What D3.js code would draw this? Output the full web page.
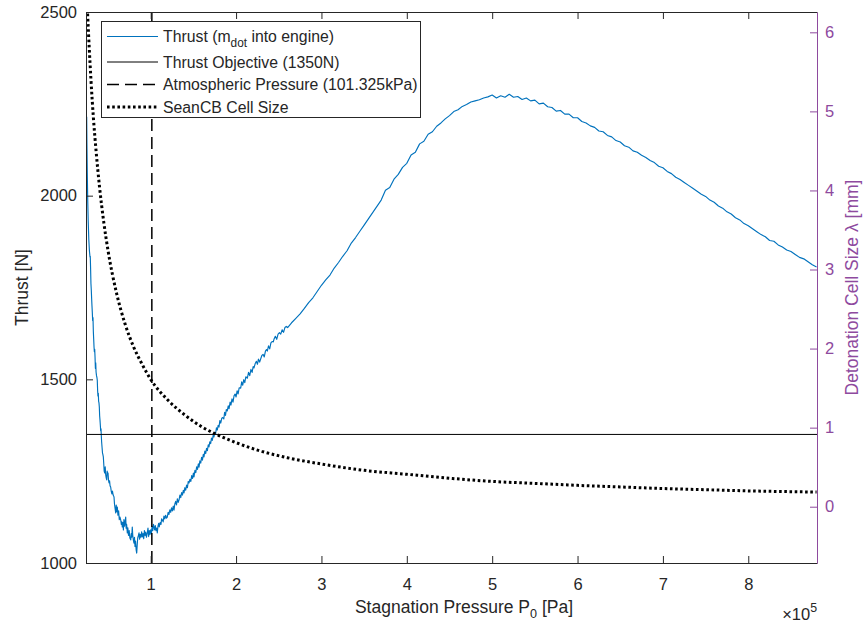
<!DOCTYPE html>
<html><head><meta charset="utf-8">
<script src="https://cdn.jsdelivr.net/npm/d3@7"></script>
<style>
html,body{margin:0;padding:0;background:#fff;}
svg{display:block;font-family:"Liberation Sans",Arial,Helvetica,sans-serif;}
</style></head><body>
<svg id="chart" width="865" height="625"></svg>
<script>
// ---------- data (pressure in units of 1e5 Pa) ----------
const pressureTicks = [1, 2, 3, 4, 5, 6, 7, 8];
const thrustTicks = [1000, 1500, 2000, 2500];
const cellTicks = [0, 1, 2, 3, 4, 5, 6];
const pressureRange = [0.242, 8.805];
const thrustRange = [1000, 2500];
const cellRange = [-0.712, 6.257];
const thrustObjective = 1350;          // N
const atmosphericPressure = 1.01325;   // x1e5 Pa
const legendLabels = ["Thrust (m|dot| into engine)", "Thrust Objective (1350N)", "Atmospheric Pressure (101.325kPa)", "SeanCB Cell Size"];

// Thrust [N] vs stagnation pressure
const thrustCurve = [
[0.250,2215],[0.253,2140],[0.257,2062],[0.262,1990],[0.268,1930],[0.275,1880],[0.282,1850],[0.289,1833],[0.292,1835],[0.296,1800],
[0.300,1760],[0.304,1743],[0.308,1720],[0.312,1700],[0.316,1681],[0.320,1660],[0.324,1668],[0.328,1630],[0.332,1610],[0.336,1588],
[0.340,1575],[0.344,1582],[0.348,1560],[0.352,1530],[0.356,1545],[0.360,1520],[0.365,1510],[0.370,1505],[0.374,1498],[0.378,1470],
[0.382,1455],[0.386,1462],[0.390,1440],[0.394,1436],[0.398,1425],[0.402,1400],[0.406,1389],[0.410,1375],[0.414,1360],[0.418,1365],
[0.421,1348],[0.425,1330],[0.430,1315],[0.435,1300],[0.440,1295],[0.445,1289],[0.450,1270],[0.455,1250],[0.461,1245],[0.467,1262],
[0.473,1240],[0.479,1232],[0.485,1226],[0.490,1250],[0.495,1242],[0.500,1245],[0.506,1225],[0.512,1218],[0.518,1224],[0.524,1210],
[0.531,1207],[0.538,1195],[0.545,1188],[0.552,1196],[0.560,1185],[0.570,1180],[0.576,1160],[0.582,1150],[0.590,1136],[0.596,1158],
[0.602,1140],[0.609,1152],[0.616,1130],[0.624,1142],[0.632,1118],[0.640,1125],[0.649,1117],[0.656,1105],[0.662,1112],[0.667,1098],
[0.674,1110],[0.680,1090],[0.686,1118],[0.694,1100],[0.700,1112],[0.707,1125],[0.712,1095],[0.718,1105],[0.726,1082],[0.732,1096],
[0.740,1075],[0.748,1088],[0.756,1068],[0.766,1063],[0.772,1080],[0.778,1070],[0.784,1098],[0.790,1075],[0.797,1062],[0.804,1054],
[0.810,1070],[0.816,1045],[0.822,1060],[0.830,1035],[0.836,1027],[0.842,1050],[0.848,1068],[0.856,1075],[0.863,1082],[0.870,1065],
[0.878,1078],[0.886,1070],[0.894,1085],[0.902,1071],[0.910,1080],[0.918,1066],[0.926,1088],[0.934,1075],[0.942,1084],[0.950,1070],
[0.960,1082],[0.968,1095],[0.976,1072],[0.984,1088],[0.992,1078],[1.000,1090],[1.008,1080],[1.016,1100],[1.024,1088],[1.032,1105],
[1.039,1098],[1.046,1090],[1.054,1102],[1.062,1088],[1.070,1095],[1.077,1082],[1.085,1100],[1.093,1108],[1.100,1098],[1.110,1110],
[1.120,1105],[1.128,1120],[1.136,1117],[1.146,1112],[1.155,1128],[1.165,1120],[1.175,1130],[1.185,1122],[1.194,1125],[1.204,1138],
[1.214,1132],[1.224,1145],[1.234,1138],[1.244,1150],[1.254,1142],[1.264,1155],[1.273,1144],[1.282,1160],[1.292,1168],[1.302,1158],
[1.312,1175],[1.322,1165],[1.332,1172],[1.342,1185],[1.352,1178],[1.362,1192],[1.372,1185],[1.382,1198],[1.390,1191],[1.400,1205],
[1.410,1198],[1.420,1212],[1.430,1205],[1.440,1222],[1.449,1218],[1.460,1228],[1.470,1222],[1.480,1238],[1.490,1230],[1.500,1245],
[1.507,1234],[1.518,1252],[1.528,1246],[1.538,1262],[1.548,1255],[1.558,1270],[1.566,1261],[1.576,1278],[1.586,1272],[1.596,1288],
[1.606,1280],[1.616,1296],[1.624,1289],[1.634,1305],[1.644,1298],[1.654,1312],[1.664,1306],[1.674,1322],[1.683,1316],[1.692,1330],
[1.702,1325],[1.712,1340],[1.722,1334],[1.732,1348],[1.741,1343],[1.750,1356],[1.760,1352],[1.770,1368],[1.780,1362],[1.790,1375],
[1.800,1370],[1.810,1388],[1.820,1381],[1.832,1394],[1.844,1396],[1.856,1392],[1.866,1410],[1.876,1402],[1.886,1418],[1.897,1414],
[1.908,1428],[1.918,1420],[1.930,1438],[1.940,1430],[1.952,1447],[1.964,1438],[1.976,1455],[1.988,1460],[2.000,1452],[2.012,1469],
[2.024,1460],[2.036,1477],[2.054,1476],[2.066,1493],[2.078,1484],[2.090,1499],[2.102,1491],[2.114,1507],[2.132,1503],[2.146,1519],
[2.160,1510],[2.174,1527],[2.188,1519],[2.200,1535],[2.210,1531],[2.224,1543],[2.238,1549],[2.250,1541],[2.262,1555],[2.276,1547],
[2.289,1556],[2.302,1565],[2.316,1568],[2.330,1561],[2.344,1577],[2.356,1581],[2.366,1577],[2.380,1591],[2.394,1583],[2.408,1599],
[2.422,1603],[2.436,1602],[2.444,1609],[2.460,1617],[2.476,1609],[2.492,1623],[2.508,1627],[2.523,1623],[2.540,1635],[2.556,1628],
[2.572,1641],[2.588,1644],[2.604,1641],[2.65,1654],[2.70,1666],[2.75,1678],[2.80,1693],[2.85,1709],[2.90,1722],[2.95,1739],
[3.00,1756],[3.05,1771],[3.10,1784],[3.15,1803],[3.20,1818],[3.25,1835],[3.30,1850],[3.35,1871],[3.40,1886],[3.45,1903],
[3.50,1920],[3.55,1937],[3.60,1954],[3.65,1971],[3.70,1988],[3.75,2015],[3.80,2022],[3.85,2045],[3.90,2058],[3.95,2077],
[4.00,2088],[4.05,2111],[4.10,2118],[4.15,2141],[4.20,2148],[4.25,2167],[4.30,2174],[4.35,2189],[4.40,2198],[4.45,2209],
[4.50,2218],[4.55,2229],[4.60,2234],[4.65,2243],[4.70,2248],[4.75,2255],[4.80,2258],[4.85,2261],[4.90,2266],[4.95,2269],
[5.00,2274],[5.05,2266],[5.10,2272],[5.15,2268],[5.20,2276],[5.25,2268],[5.30,2270],[5.35,2262],[5.40,2266],[5.45,2258],
[5.50,2260],[5.55,2250],[5.60,2252],[5.65,2242],[5.70,2240],[5.75,2230],[5.80,2232],[5.85,2222],[5.90,2222],[5.95,2212],
[6.00,2212],[6.05,2202],[6.10,2198],[6.15,2190],[6.20,2186],[6.25,2176],[6.30,2174],[6.35,2164],[6.40,2160],[6.45,2150],
[6.50,2146],[6.55,2136],[6.60,2132],[6.65,2122],[6.70,2118],[6.75,2110],[6.80,2104],[6.85,2096],[6.90,2090],[6.95,2080],
[7.00,2076],[7.05,2066],[7.10,2060],[7.15,2050],[7.20,2044],[7.25,2036],[7.30,2028],[7.35,2020],[7.40,2012],[7.45,2004],
[7.50,1998],[7.55,1988],[7.60,1982],[7.65,1972],[7.70,1966],[7.75,1956],[7.80,1950],[7.85,1940],[7.90,1934],[7.95,1924],
[8.00,1918],[8.05,1910],[8.10,1902],[8.15,1894],[8.20,1888],[8.25,1878],[8.30,1876],[8.35,1866],[8.40,1860],[8.45,1852],
[8.50,1848],[8.55,1840],[8.60,1832],[8.65,1828],[8.70,1820],[8.75,1812],[8.80,1806]
];

// Detonation cell size [mm] vs stagnation pressure
const cellPressure = [0.25, 0.26, 0.28, 0.30, 0.33, 0.36, 0.40, 0.45, 0.50, 0.60, 0.70, 0.80, 0.90, 1.0, 1.2, 1.4, 1.6, 1.8, 2.0, 2.3, 2.6, 3.0, 3.5, 4.0, 4.5, 5.0, 5.5, 6.0, 6.5, 7.0, 7.5, 8.0, 8.5, 8.8];
const cellSize = [6.50, 6.25, 5.80, 5.40, 4.90, 4.50, 4.05, 3.60, 3.24, 2.70, 2.31, 2.02, 1.80, 1.61, 1.35, 1.16, 1.01, 0.90, 0.81, 0.70, 0.62, 0.54, 0.46, 0.41, 0.36, 0.32, 0.295, 0.27, 0.25, 0.23, 0.215, 0.20, 0.19, 0.185];

// ---------- layout ----------
const L = 86, R = 817, T = 12, B = 563;
const axisColor = "#262626";
const purple = "#8e4a9e";
const blue = "#0072BD";
const tickFont = 16.5, labelFont = 17.5, legendFont = 15.8;

const svg = d3.select("#chart");
const x = d3.scaleLinear().domain(pressureRange).range([L, R]);
const yL = d3.scaleLinear().domain(thrustRange).range([B, T]);
const yR = d3.scaleLinear().domain(cellRange).range([B, T]);

svg.append("defs").append("clipPath").attr("id", "plotclip")
  .append("rect").attr("x", L).attr("y", T).attr("width", R - L).attr("height", B - T);

const plot = svg.append("g").attr("clip-path", "url(#plotclip)");

// thrust line
plot.append("path").datum(thrustCurve)
  .attr("fill", "none").attr("stroke", blue).attr("stroke-width", 1.15)
  .attr("stroke-linejoin", "round")
  .attr("d", d3.line().x(d => x(d[0])).y(d => yL(d[1])));

// objective
plot.append("line")
  .attr("x1", x(pressureRange[0])).attr("x2", x(pressureRange[1]))
  .attr("y1", yL(thrustObjective)).attr("y2", yL(thrustObjective))
  .attr("stroke", "#000").attr("stroke-width", 1);

// atmospheric pressure
plot.append("line")
  .attr("x1", x(atmosphericPressure)).attr("x2", x(atmosphericPressure))
  .attr("y1", yL(thrustRange[0])).attr("y2", yL(thrustRange[1]))
  .attr("stroke", "#000").attr("stroke-width", 1.5).attr("stroke-dasharray", "12,6");

// cell size dotted
const cellData = cellPressure.map((p, i) => [p, cellSize[i]]);
plot.append("path").datum(cellData)
  .attr("fill", "none").attr("stroke", "#000").attr("stroke-width", 3)
  .attr("stroke-dasharray", "2.6,2.6")
  .attr("d", d3.line().curve(d3.curveMonotoneX).x(d => x(d[0])).y(d => yR(d[1])));

// ---------- axes ----------
function styleAxis(g, color) {
  g.selectAll("path.domain").attr("stroke", color).attr("stroke-width", 1);
  g.selectAll(".tick line").attr("stroke", color);
  g.selectAll(".tick text").attr("fill", color).style("font-size", tickFont + "px")
    .style("font-family", '"Liberation Sans",Arial,Helvetica,sans-serif');
}

const xAxis = svg.append("g").attr("transform", `translate(0,${B})`)
  .call(d3.axisBottom(x).tickValues(pressureTicks).tickFormat(d3.format("d")).tickSize(-7).tickSizeOuter(0).tickPadding(15));
styleAxis(xAxis, axisColor);

const xTop = svg.append("g").attr("transform", `translate(0,${T})`)
  .call(d3.axisTop(x).tickValues(pressureTicks).tickFormat("").tickSize(-7).tickSizeOuter(0));
styleAxis(xTop, axisColor);

const yAxisL = svg.append("g").attr("transform", `translate(${L},0)`)
  .call(d3.axisLeft(yL).tickValues(thrustTicks).tickFormat(d3.format("d")).tickSize(-7).tickSizeOuter(0).tickPadding(9));
styleAxis(yAxisL, axisColor);

const yAxisR = svg.append("g").attr("transform", `translate(${R},0)`)
  .call(d3.axisRight(yR).tickValues(cellTicks).tickFormat(d3.format("d")).tickSize(-7).tickSizeOuter(0).tickPadding(8));
styleAxis(yAxisR, purple);

// axis labels
const xl = svg.append("text").attr("x", 464).attr("y", 613)
  .attr("text-anchor", "middle").attr("fill", axisColor).style("font-size", labelFont + "px");
xl.append("tspan").text("Stagnation Pressure P");
xl.append("tspan").attr("dy", 5).style("font-size", (labelFont * 0.72) + "px").text("0");
xl.append("tspan").attr("dy", -5).text(" [Pa]");

const ex = svg.append("text").attr("x", R).attr("y", 620).attr("text-anchor", "end")
  .attr("fill", axisColor).style("font-size", tickFont + "px");
ex.append("tspan").text("\u00d710");
ex.append("tspan").attr("dy", -8).style("font-size", (tickFont * 0.75) + "px").text("5");

svg.append("text").attr("transform", `translate(28,${(T + B) / 2}) rotate(-90)`)
  .attr("text-anchor", "middle").attr("fill", axisColor).style("font-size", labelFont + "px")
  .text("Thrust [N]");

svg.append("text").attr("transform", `translate(858,${(T + B) / 2}) rotate(-90)`)
  .attr("text-anchor", "middle").attr("fill", purple).style("font-size", labelFont + "px")
  .text("Detonation Cell Size \u03bb [mm]");

// ---------- legend ----------
const lg = svg.append("g");
lg.append("rect").attr("x", 101.5).attr("y", 21.5).attr("width", 319).attr("height", 96)
  .attr("fill", "#fff").attr("stroke", axisColor).attr("stroke-width", 1);
const rows = [36.5, 62, 84.5, 107];
const styles = [
  {stroke: blue, w: 1.15, dash: null},
  {stroke: "#000", w: 1, dash: null},
  {stroke: "#000", w: 1.5, dash: "12,6"},
  {stroke: "#000", w: 3, dash: "2.6,2.6"}
];
legendLabels.forEach((lab, i) => {
  const s = styles[i];
  lg.append("line").attr("x1", 107).attr("x2", 158).attr("y1", rows[i]).attr("y2", rows[i])
    .attr("stroke", s.stroke).attr("stroke-width", s.w).attr("stroke-dasharray", s.dash);
  const t = lg.append("text").attr("x", 163).attr("y", rows[i] + 5.5)
    .attr("fill", axisColor).style("font-size", legendFont + "px");
  const parts = lab.split("|");
  if (parts.length === 3) {
    t.append("tspan").text(parts[0]);
    t.append("tspan").attr("dy", 5).style("font-size", (legendFont * 0.75) + "px").text(parts[1]);
    t.append("tspan").attr("dy", -5).text(parts[2]);
  } else {
    t.text(lab);
  }
});
</script>
</body></html>
